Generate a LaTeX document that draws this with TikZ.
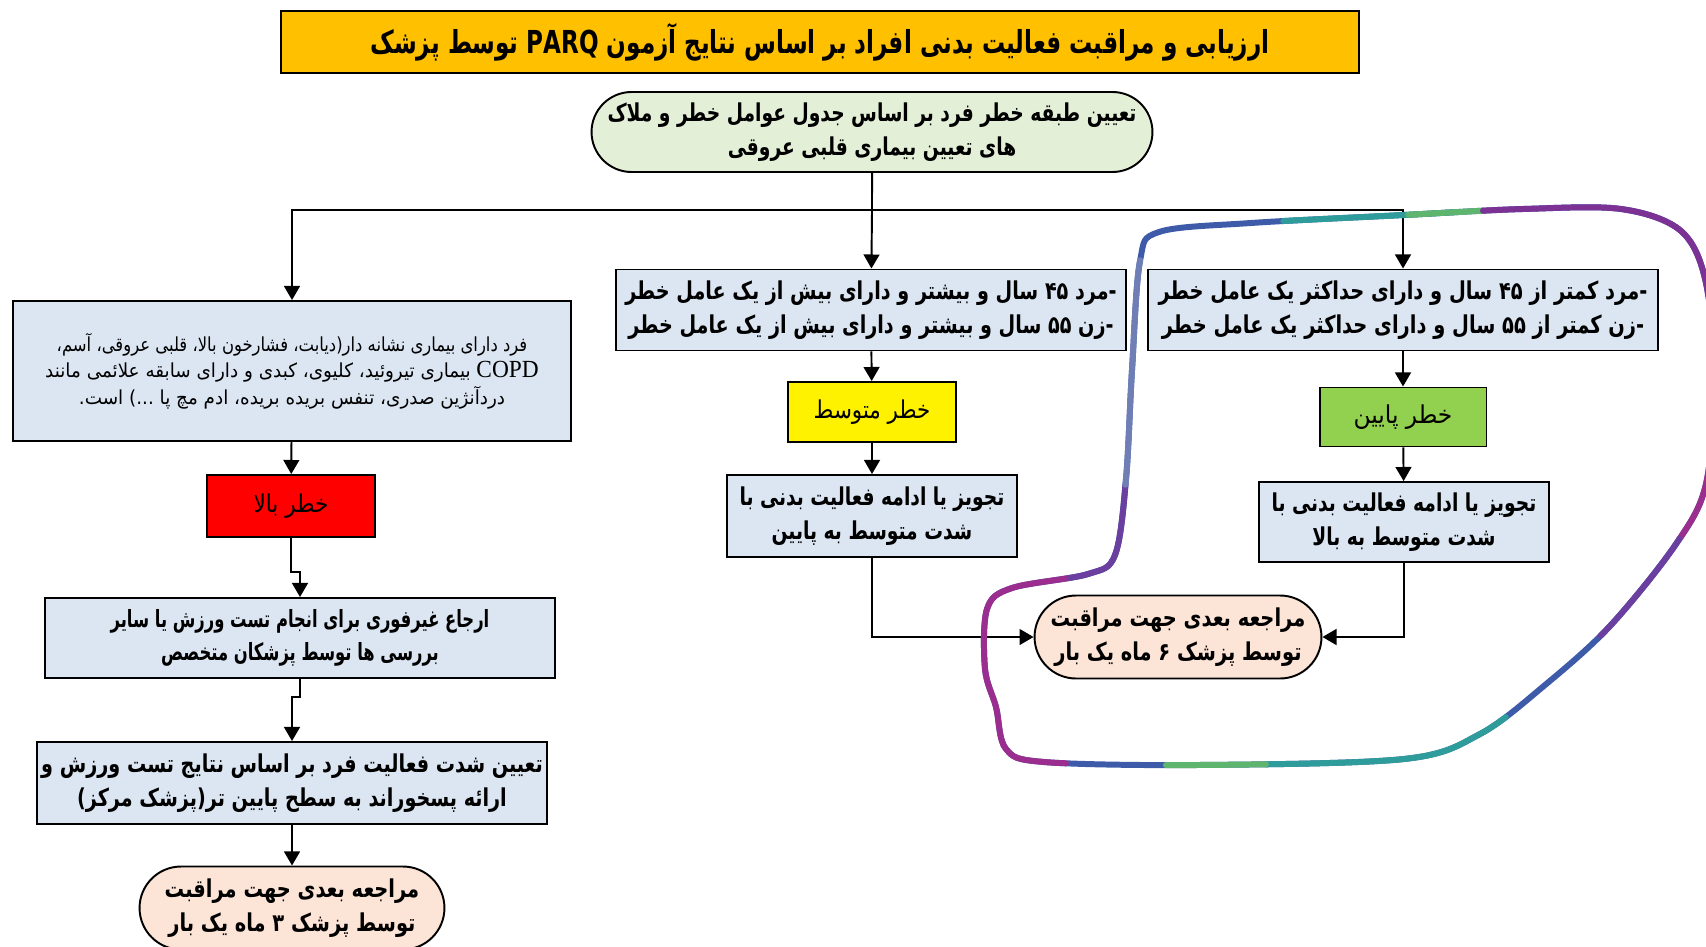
\documentclass[tikz,border=0pt]{standalone}
\usepackage{fontspec}
\usepackage{xcolor}
\usepackage{graphicx}
\usetikzlibrary{arrows.meta,shapes.misc}
\newfontfamily\farsi[Script=Arabic]{DejaVu Sans}
\newfontfamily\latfont{Liberation Serif}
\TeXXeTstate=1
% right-to-left line, squeezed to the width of the original face
\newcommand{\fa}[2][0.77]{\scalebox{#1}[1]{\beginR #2\endR}}
\newcommand{\rlm}{^^^^200f}
\definecolor{titlebg}{HTML}{FFC000}
\definecolor{startbg}{HTML}{E4EFD8}
\definecolor{boxbg}{HTML}{DCE6F2}
\definecolor{visitbg}{HTML}{FCE4D6}
\definecolor{lowgreen}{HTML}{92D050}
\definecolor{loopblue}{HTML}{3E5BA9}
\definecolor{loopteal}{HTML}{2E9C9A}
\definecolor{loopgreen}{HTML}{5DB56E}
\definecolor{looppurple}{HTML}{7B3294}
\definecolor{loopmagenta}{HTML}{9B2D8E}
\definecolor{loopviolet}{HTML}{6A3FA0}
\definecolor{loopslate}{HTML}{6F7FB6}
\tikzset{
	box/.style={draw, line width=1.1pt, fill=boxbg, align=center, inner sep=2pt,
			font=\farsi\bfseries\fontsize{14}{19}\selectfont},
	oval/.style={box, rounded rectangle, fill=visitbg},
	riskbox/.style={draw, line width=1.1pt, align=center,
			minimum width=3.36cm, font=\farsi\fontsize{14}{18}\selectfont},
	arr/.style={->, line width=1.1pt},
	loop/.style={line width=3.4pt, line cap=round}
}

\begin{document}
\begin{tikzpicture}[x=0.02cm,y=-0.02cm,>={Triangle[length=8pt,width=9pt]}]
	\useasboundingbox (0,0) rectangle (1706,946);
	\clip (0,0) rectangle (1706,946);

	% Title and start
	\node[box, fill=titlebg, minimum width=21.58cm, minimum height=1.24cm,
		font=\farsi\bfseries\fontsize{18}{22}\selectfont] (title) at (820,42)
		{\fa[0.73]{ارزیابی و مراقبت فعالیت بدنی افراد  بر اساس نتایج آزمون PARQ توسط پزشک}};
	\node[box, rounded rectangle, fill=startbg, minimum width=11.16cm, minimum height=1.6cm] (start) at (872,132)
		{\fa[0.76]{تعیین طبقه خطر فرد بر اساس جدول عوامل خطر و ملاک}\\\fa[0.76]{های تعیین بیماری قلبی عروقی}};
	\coordinate (split) at (872,210);

	% High risk branch
	\node[box, minimum width=11.16cm, minimum height=2.8cm,
		font=\farsi\fontsize{11}{15}\selectfont] (sick) at (292,371)
		{\fa[0.85]{فرد دارای بیماری نشانه دار(دیابت، فشارخون بالا، قلبی عروقی، آسم،}\\
			\fa[0.95]{{\latfont\fontsize{14}{15}\selectfont COPD} بیماری تیروئید، کلیوی، کبدی و دارای سابقه علائمی مانند}\\
			\fa[0.95]{دردآنژین صدری، تنفس بریده بریده، ادم مچ پا \rlm...)\rlm{} است.}};
	\node[riskbox, fill=red, minimum height=1.24cm] (high) at (291,506) {\fa[0.88]{خطر بالا}};
	\node[box, minimum width=10.2cm, minimum height=1.6cm, font=\farsi\bfseries\fontsize{13.5}{19}\selectfont] (refer) at (300,638)
		{\fa[0.69]{ارجاع غیرفوری برای انجام تست ورزش یا سایر}\\\fa[0.69]{بررسی ها توسط پزشکان متخصص}};
	\node[box, minimum width=10.2cm, minimum height=1.64cm] (intens) at (292,783)
		{\fa[0.78]{تعیین شدت فعالیت فرد بر اساس نتایج تست ورزش و}\\\fa[0.78]{ارائه پسخوراند به سطح پایین تر(پزشک مرکز)\rlm}};
	\node[oval, minimum width=6.24cm, minimum height=1.66cm] (visit3) at (292,908)
		{\fa[0.79]{مراجعه بعدی جهت مراقبت}\\\fa[0.79]{توسط پزشک  ۳ ماه  یک بار}};

	% Moderate risk branch
	\node[box, minimum width=10.2cm, minimum height=1.62cm] (older) at (871,310)
		{\fa[0.78]{-مرد ۴۵ سال و بیشتر و دارای بیش از یک عامل خطر}\\\fa[0.78]{-زن ۵۵ سال و بیشتر و دارای بیش از یک عامل خطر}};
	\node[riskbox, fill=yellow, minimum height=1.2cm] (mid) at (872,412) {\fa[0.87]{خطر متوسط}};
	\node[box, minimum width=5.8cm, minimum height=1.64cm] (midplan) at (872,516)
		{\fa[0.76]{تجویز یا ادامه فعالیت بدنی با}\\\fa[0.76]{شدت متوسط به پایین}};
	\node[oval, minimum width=5.88cm, minimum height=1.66cm] (visit6) at (1178,637)
		{\fa[0.79]{مراجعه بعدی جهت مراقبت}\\\fa[0.79]{توسط پزشک  ۶ ماه  یک بار}};

	% Low risk branch
	\node[box, minimum width=10.2cm, minimum height=1.62cm] (younger) at (1403,310)
		{\fa[0.79]{-مرد کمتر از ۴۵ سال و دارای حداکثر یک عامل خطر}\\\fa[0.79]{-زن کمتر از ۵۵ سال و دارای حداکثر یک عامل خطر}};
	\node[riskbox, fill=lowgreen, minimum width=3.34cm, minimum height=1.18cm] (low) at (1403,417) {\fa[0.95]{خطر پایین}};
	\node[box, minimum width=5.8cm, minimum height=1.6cm] (lowplan) at (1404,522)
		{\fa[0.76]{تجویز یا ادامه فعالیت بدنی با}\\\fa[0.76]{شدت متوسط به بالا}};

	% Connectors
	\draw[line width=1.1pt] (start) -- (split);
	\draw[arr] (split) -| (sick.north);
	\draw[arr] (split) -- (older);
	\draw[arr] (split) -| (younger.north);
	\draw[arr] (sick) -- (high);
	\draw[arr] (high.south) -- ++(0,34) -| (refer.north);
	\draw[arr] (refer.south) -- ++(0,18) -| (intens.north);
	\draw[arr] (intens) -- (visit3);
	\draw[arr] (older) -- (mid);
	\draw[arr] (mid) -- (midplan);
	\draw[arr] (midplan.south) |- (visit6.west);
	\draw[arr] (younger) -- (low);
	\draw[arr] (low) -- (lowplan);
	\draw[arr] (lowplan.south) |- (visit6.east);

	% Hand-drawn loop round the low risk branch
	\path[save path=\looppath] plot[smooth cycle, tension=0.55] coordinates {(1140,261) (1159,232) (1251,223)
			(1404,215) (1523,209) (1621,209) (1681,231) (1706,283) (1714,381) (1706,484) (1676,544)
			(1610,626) (1545,685) (1480,734) (1404,759) (1197,765) (1044,762) (1006,749)
			(996,707) (985,669) (987,609) (1012,588) (1088,574) (1115,555) (1126,479) (1132,370)};
	\draw[loop, loopblue, use path=\looppath];
	\foreach \col/\len/\ph in {loopteal/3.5cm/101cm, loopgreen/1.5cm/96.5cm, looppurple/5.5cm/99cm,
			loopmagenta/3cm/89cm, loopviolet/2.5cm/85.5cm, loopteal/5cm/83cm, loopgreen/2cm/75cm,
			loopmagenta/6cm/75cm, loopviolet/2.5cm/65.5cm, loopslate/4.5cm/65cm}
	\draw[loop, color=\col, dash pattern/.expanded={on \len\space off 100cm}, dash phase=\ph,
		use path=\looppath];
\end{tikzpicture}
\end{document}
